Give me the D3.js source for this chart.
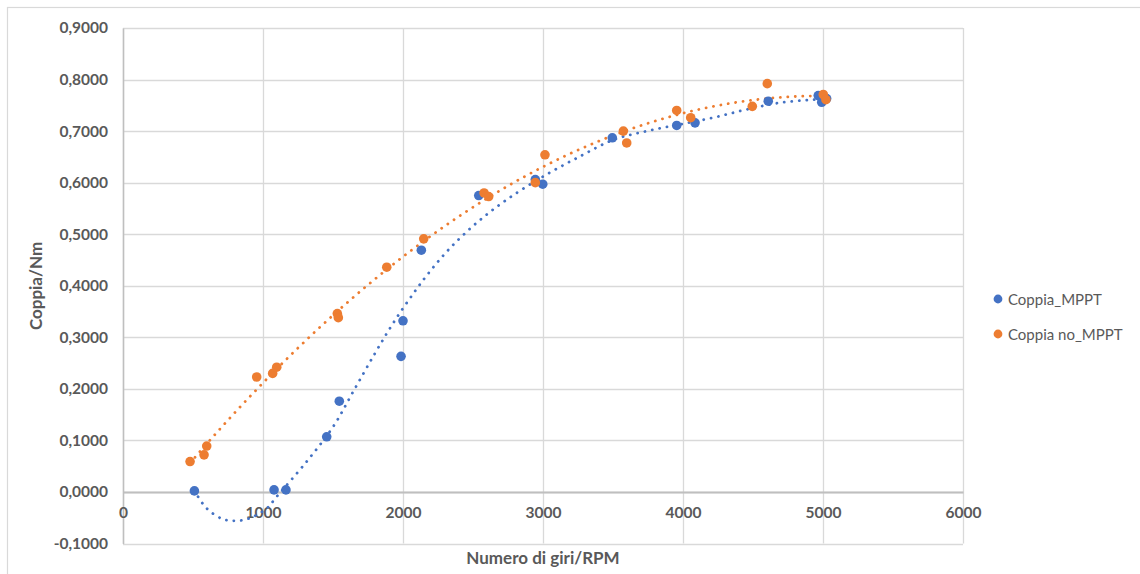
<!DOCTYPE html>
<html>
<head>
<meta charset="utf-8">
<script src="https://cdn.jsdelivr.net/npm/d3@7"></script>
<style>
  html, body { margin: 0; padding: 0; background: #fff; }
  svg { display: block; }
  text { font-family: Lato, "Open Sans", sans-serif; }
</style>
</head>
<body>
<svg id="chart" width="1140" height="574"></svg>
<script>
// RPM / torque readings, with MPPT
const mpptRpm    = [510, 1079, 1164, 1455, 1545, 1986, 2000, 2131, 2541, 2945, 2998, 3495, 3955, 4086, 4609, 4966, 4991, 5026];
const mpptTorque = [0.002, 0.004, 0.004, 0.107, 0.176, 0.263, 0.332, 0.469, 0.575, 0.606, 0.597, 0.687, 0.711, 0.716, 0.758, 0.769, 0.756, 0.763];

// RPM / torque readings, without MPPT
const noMpptRpm    = [479, 579, 598, 955, 1069, 1098, 1531, 1538, 1884, 2148, 2579, 2612, 2945, 3014, 3574, 3598, 3955, 4055, 4495, 4602, 5002, 5021];
const noMpptTorque = [0.059, 0.072, 0.089, 0.223, 0.230, 0.242, 0.346, 0.338, 0.436, 0.491, 0.580, 0.573, 0.600, 0.654, 0.700, 0.677, 0.740, 0.726, 0.748, 0.792, 0.771, 0.761];

// trend curve for the MPPT series (RPM, torque)
const mpptTrendRpm    = [509, 598, 716, 807, 895, 1026, 1098, 1312, 1502, 1645, 1800, 1931, 2074, 2193, 2336, 2526, 2741, 3002, 3264, 3502, 3741, 3979, 4216, 4455, 4693, 4931, 5026];
const mpptTrendTorque = [0.003, -0.032, -0.053, -0.056, -0.052, -0.032, -0.009, 0.059, 0.127, 0.195, 0.269, 0.328, 0.385, 0.428, 0.473, 0.522, 0.567, 0.612, 0.651, 0.683, 0.700, 0.713, 0.726, 0.742, 0.755, 0.761, 0.762];

const xTicks = [0, 1000, 2000, 3000, 4000, 5000, 6000];
const yTicks = [-0.1, 0, 0.1, 0.2, 0.3, 0.4, 0.5, 0.6, 0.7, 0.8, 0.9];

const seriesNames = ["Coppia_MPPT", "Coppia no_MPPT"];
const seriesColors = ["#4472C4", "#ED7D31"];

const svg = d3.select("#chart");
const W = 1140, H = 574;

// chart frame (open on the right and bottom edges)
svg.append("rect")
  .attr("x", 7.5).attr("y", 7.5)
  .attr("width", W + 10).attr("height", H + 10)
  .attr("fill", "#fff").attr("stroke", "#d9d9d9").attr("stroke-width", 1.2);

const plot = { left: 123, right: 963, top: 28, bottom: 543.5 };
const x = d3.scaleLinear().domain([0, 6000]).range([plot.left, plot.right]);
const y = d3.scaleLinear().domain([-0.1, 0.9]).range([plot.bottom, plot.top]);

const fmtY = v => d3.format(".4f")(v).replace("−", "-").replace(".", ",");

// gridlines
const grid = svg.append("g");
grid.selectAll("line.h").data(yTicks).join("line")
  .attr("x1", plot.left).attr("x2", plot.right)
  .attr("y1", d => Math.round(y(d)) + 0.5).attr("y2", d => Math.round(y(d)) + 0.5)
  .attr("stroke", "#d9d9d9").attr("stroke-width", 1.3);
grid.selectAll("line.v").data(xTicks).join("line")
  .attr("y1", plot.top).attr("y2", plot.bottom)
  .attr("x1", d => Math.round(x(d)) + 0.5).attr("x2", d => Math.round(x(d)) + 0.5)
  .attr("stroke", "#d9d9d9").attr("stroke-width", 1.3);

// y axis
const yAxis = svg.append("g")
  .attr("transform", `translate(${plot.left},0)`)
  .call(d3.axisLeft(y).tickValues(yTicks).tickSize(0).tickPadding(15).tickFormat(fmtY));
yAxis.select(".domain").attr("stroke", "#bfbfbf").attr("stroke-width", 1.5);
yAxis.selectAll("text")
  .attr("fill", "#595959").attr("font-size", 15.5).attr("font-weight", 700);

// x axis drawn along the zero line
const xAxis = svg.append("g")
  .attr("transform", `translate(0,${y(0)})`)
  .call(d3.axisBottom(x).tickValues(xTicks).tickSize(0).tickPadding(15).tickFormat(d3.format("d")));
xAxis.select(".domain").attr("stroke", "#bfbfbf").attr("stroke-width", 2);
xAxis.selectAll("text")
  .attr("fill", "#595959").attr("font-size", 15.5).attr("font-weight", 700);

// axis titles
svg.append("text")
  .attr("x", (plot.left + plot.right) / 2).attr("y", 564)
  .attr("text-anchor", "middle").attr("fill", "#595959")
  .attr("font-size", 17).attr("font-weight", 700)
  .text("Numero di giri/RPM");
svg.append("text")
  .attr("transform", `translate(42,286) rotate(-90)`)
  .attr("text-anchor", "middle").attr("fill", "#595959")
  .attr("font-size", 17).attr("font-weight", 700)
  .text("Coppia/Nm");

// least-squares quadratic trend for the series without MPPT
function polyFit(xs, ys, order) {
  const n = order + 1;
  const A = Array.from({ length: n }, () => new Array(n + 1).fill(0));
  xs.forEach((xv, i) => {
    const t = xv / 1000;
    for (let r = 0; r < n; r++) {
      for (let c = 0; c < n; c++) A[r][c] += Math.pow(t, r + c);
      A[r][n] += ys[i] * Math.pow(t, r);
    }
  });
  for (let p = 0; p < n; p++) {
    let m = p;
    for (let r = p + 1; r < n; r++) if (Math.abs(A[r][p]) > Math.abs(A[m][p])) m = r;
    [A[p], A[m]] = [A[m], A[p]];
    for (let r = 0; r < n; r++) {
      if (r === p) continue;
      const f = A[r][p] / A[p][p];
      for (let c = p; c <= n; c++) A[r][c] -= f * A[p][c];
    }
  }
  const coef = A.map((row, i) => row[n] / row[i]);
  return xv => coef.reduce((s, c, i) => s + c * Math.pow(xv / 1000, i), 0);
}

const fitNo = polyFit(noMpptRpm, noMpptTorque, 2);
const [noLo, noHi] = d3.extent(noMpptRpm);
const noTrend = d3.range(noLo, noHi, 10).concat([noHi]).map(v => [v, fitNo(v)]);
const mpptTrend = mpptTrendRpm.map((v, k) => [v, mpptTrendTorque[k]]);

const trendLine = d3.line().x(d => x(d[0])).y(d => y(d[1])).curve(d3.curveCatmullRom.alpha(0.5));

[mpptTrend, noTrend].forEach((pts, i) => {
  svg.append("path")
    .datum(pts)
    .attr("d", trendLine)
    .attr("fill", "none")
    .attr("stroke", seriesColors[i])
    .attr("stroke-width", 2.8)
    .attr("stroke-linecap", "round")
    .attr("stroke-dasharray", "0.1 7.4");
});

const series = [
  { xs: mpptRpm, ys: mpptTorque },
  { xs: noMpptRpm, ys: noMpptTorque }
];
series.forEach((s, i) => {
  svg.append("g").selectAll("circle")
    .data(s.xs.map((v, k) => [v, s.ys[k]]))
    .join("circle")
    .attr("cx", d => x(d[0])).attr("cy", d => y(d[1]))
    .attr("r", 4.8)
    .attr("fill", seriesColors[i]);
});

// legend
const legend = svg.append("g").attr("transform", "translate(998,299)");
seriesNames.forEach((name, i) => {
  const g = legend.append("g").attr("transform", `translate(0,${i * 35})`);
  g.append("circle").attr("r", 4.4).attr("fill", seriesColors[i]);
  g.append("text").attr("x", 10).attr("y", 5.5)
    .attr("fill", "#595959").attr("font-size", 15)
    .text(name);
});
</script>
</body>
</html>
